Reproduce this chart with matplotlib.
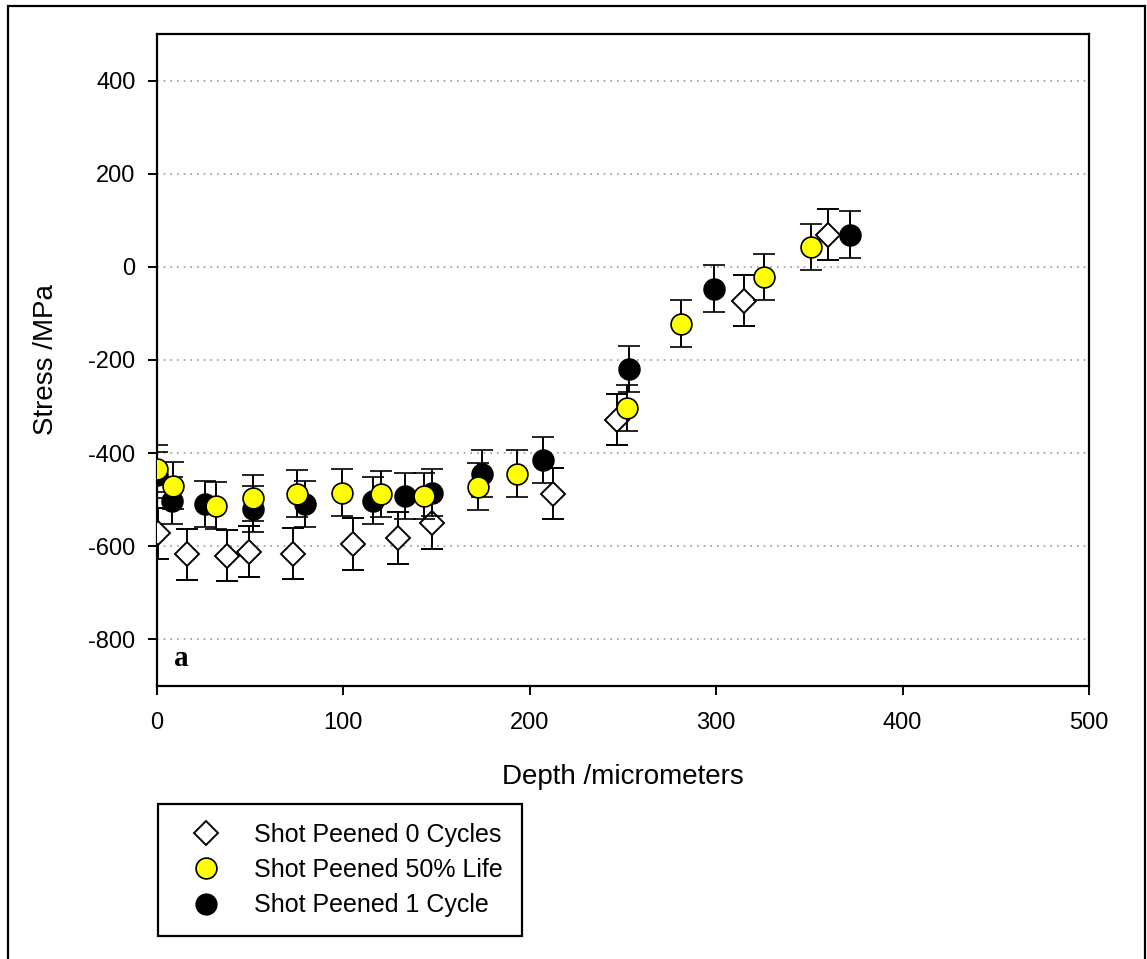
import matplotlib
matplotlib.use("Agg")
import matplotlib.pyplot as plt
from matplotlib.lines import Line2D
from matplotlib.patches import Rectangle

plt.rcParams['font.family'] = ['Liberation Sans', 'DejaVu Sans']
plt.rcParams['axes.unicode_minus'] = False

# Shot Peened 0 Cycles (open diamonds)
x0 = [0.5, 16, 37.5, 49.5, 73, 105, 129.5, 147.5, 212.7, 247, 314.7, 359.8]
y0 = [-572, -617, -620, -612, -616, -595, -582, -550, -487, -328, -73, 69]
e0 = [55, 55, 55, 55, 55, 55, 55, 55, 55, 55, 55, 55]

# Shot Peened 50% Life (yellow circles)
x50 = [0, 8.6, 31.7, 51.5, 75, 99, 120, 143, 172, 193, 252.4, 281, 325.5, 350.7]
y50 = [-433, -470, -513, -496, -487, -485, -488, -492, -472, -444, -303, -122, -22, 43]
e50 = [50, 50, 50, 50, 50, 50, 50, 50, 50, 50, 50, 50, 50, 50]

# Shot Peened 1 Cycle (black circles)
x1 = [0, 8, 26, 51.5, 79.5, 116, 133, 147.5, 174.5, 207, 253, 298.6, 372]
y1 = [-447, -502, -509, -520, -509, -502, -492, -485, -444, -415, -219, -47, 69]
e1 = [50, 50, 50, 50, 50, 50, 50, 50, 50, 50, 50, 50, 50]

labels = ["Shot Peened 0 Cycles", "Shot Peened 50% Life", "Shot Peened 1 Cycle"]
xticks = [0, 100, 200, 300, 400, 500]
yticks = [-800, -600, -400, -200, 0, 200, 400]

fig = plt.figure(figsize=(11.47, 9.59), dpi=100)
ax = fig.add_axes([157/1147, 1-686/959, (1089-157)/1147, (686-34)/959])

# outer frame
fig.patches.append(Rectangle((8/1147, -0.01), (1145-8)/1147, 1-6/959+0.01,
                             transform=fig.transFigure, fill=False,
                             edgecolor='black', linewidth=1.6, zorder=0))

ekw = dict(ecolor='black', elinewidth=1.4, capsize=8, capthick=1.4, linestyle='none')
ax.errorbar(x0, y0, yerr=e0, marker='D', markersize=12, markerfacecolor='white',
            markeredgecolor='black', markeredgewidth=1.4, zorder=3, **ekw)
ax.errorbar(x1, y1, yerr=e1, marker='o', markersize=15, markerfacecolor='black',
            markeredgecolor='black', markeredgewidth=1.2, zorder=4, **ekw)
ax.errorbar(x50, y50, yerr=e50, marker='o', markersize=15, markerfacecolor='#ffff00',
            markeredgecolor='black', markeredgewidth=1.2, zorder=5, **ekw)

ax.set_xlim(0, 500)
ax.set_ylim(-900, 500)
ax.set_xticks(xticks)
ax.set_yticks(yticks)
ax.tick_params(direction='out', length=6.5, width=1.4, labelsize=17)
ax.tick_params(axis='y', pad=9)
ax.tick_params(axis='x', pad=12)
ax.grid(axis='y', linestyle=(0, (1, 3)), color='#999999', linewidth=1.2)
ax.set_axisbelow(True)
for sp in ax.spines.values():
    sp.set_linewidth(1.6)

ax.set_xlabel("Depth /micrometers", fontsize=20, labelpad=22)
ax.set_ylabel("Stress /MPa", fontsize=20, labelpad=21)
ax.text(13, -842, "a", fontsize=21, fontweight='bold', family='Liberation Serif',
        ha='center', va='center')

handles = [
    Line2D([], [], linestyle='none', marker='D', markersize=12, markerfacecolor='white',
           markeredgecolor='black', markeredgewidth=1.4),
    Line2D([], [], linestyle='none', marker='o', markersize=15, markerfacecolor='#ffff00',
           markeredgecolor='black', markeredgewidth=1.2),
    Line2D([], [], linestyle='none', marker='o', markersize=15, markerfacecolor='black',
           markeredgecolor='black'),
]
leg = fig.legend(handles, labels, loc='upper left', bbox_to_anchor=(158/1147, 1-804/959),
                 bbox_transform=fig.transFigure, borderaxespad=0, fontsize=18,
                 frameon=True, fancybox=False, edgecolor='black', framealpha=1,
                 handletextpad=0.8, borderpad=0.75, labelspacing=0.45, handlelength=2.3)
leg.get_frame().set_linewidth(1.6)

fig.savefig("out.png", dpi=100)
